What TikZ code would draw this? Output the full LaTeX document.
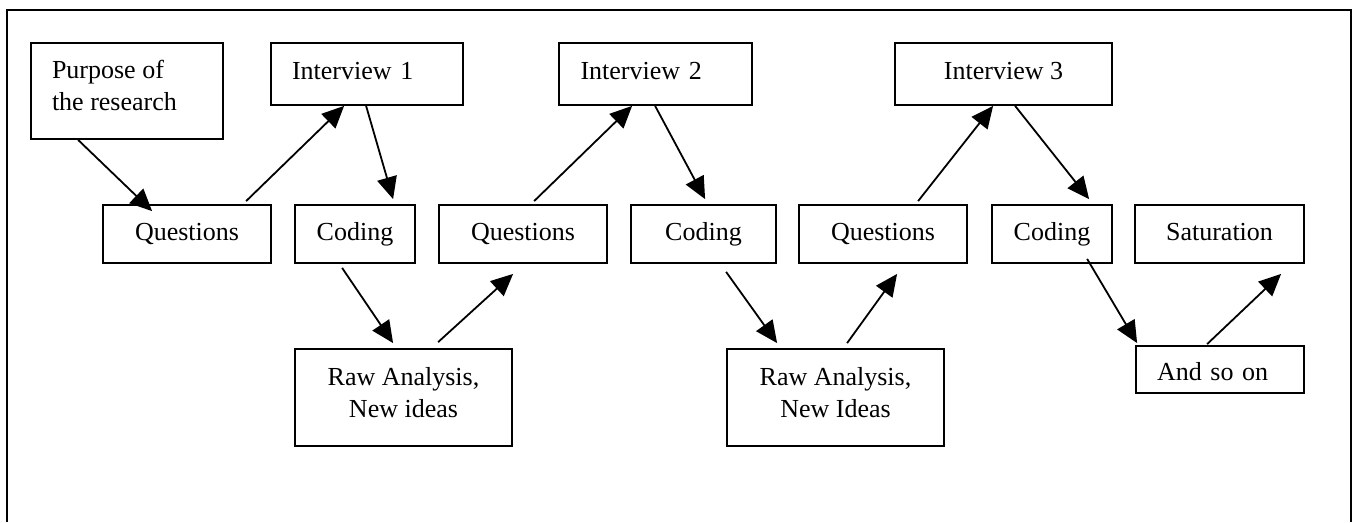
\documentclass[tikz,border=0pt]{standalone}
\usepackage{fontspec}
\setmainfont{Liberation Serif}
\usetikzlibrary{arrows.meta,calc}
\begin{document}
\begin{tikzpicture}[x=1pt,y=-1pt,
  box/.style={draw=black, line width=1.8pt, inner sep=0pt, fill=white,
    font=\fontsize{26}{32}\selectfont},
  onerow/.style={box, minimum height=58pt, text height=18pt, text depth=6pt},
  toprow/.style={box, minimum height=62pt, text height=18pt, text depth=8pt},
  arr/.style={line width=1.8pt, -{Triangle[length=22pt,width=20pt]}}]
\useasboundingbox (0,0) rectangle (1354,522);
\fill[white] (0,0) rectangle (1354,522);
% outer frame
\draw[line width=2pt] (7,522) -- (7,10) -- (1351,10) -- (1351,522);
% nodes
\node[box, minimum width=192pt, minimum height=96pt]
  (purpose) at (127,91) {\raisebox{0pt}[40pt][2pt]{\parbox[b]{150pt}{\raggedright Purpose of\\the research}}};
\node[toprow, minimum width=192pt, text width=150pt, align=left] (i1) at (367,74) {Interview 1};
\node[toprow, minimum width=193pt, text width=150pt, align=left] (i2) at (655.5,74) {Interview 2};
\node[toprow, minimum width=217pt] (i3) at (1003.5,74) {Interview 3};
\node[onerow, minimum width=168pt] (q1) at (187,234) {Questions};
\node[onerow, minimum width=120pt] (c1) at (355,234) {Coding};
\node[onerow, minimum width=168pt] (q2) at (523,234) {Questions};
\node[onerow, minimum width=145pt] (c2) at (703.5,234) {Coding};
\node[onerow, minimum width=168pt] (q3) at (883,234) {Questions};
\node[onerow, minimum width=120pt] (c3) at (1052,234) {Coding};
\node[onerow, minimum width=169pt] (sat) at (1219.5,234) {Saturation};
\node[box, minimum width=217pt, minimum height=97pt] (raw1) at (403.5,397.5)
  {\raisebox{0pt}[40pt][1pt]{\parbox[b]{200pt}{\centering Raw Analysis,\\New ideas}}};
\node[box, minimum width=217pt, minimum height=97pt] (raw2) at (835.5,397.5)
  {\raisebox{0pt}[40pt][1pt]{\parbox[b]{200pt}{\centering Raw Analysis,\\New Ideas}}};
\node[box, minimum width=168pt, minimum height=47pt, text width=126pt, align=left, text height=21pt, text depth=0pt]
  (andso) at (1220,369.5) {And so on};
% connectors
\draw[arr] ($(purpose.south west)+(48,0)$) -- ($(q1.north west)+(50,7)$);
\draw[arr] ($(q1.north west)+(144,-3)$) -- ($(i1.south west)+(74,0)$);
\draw[arr] ($(i1.south west)+(96,0)$) -- ($(c1.north west)+(99,-5)$);
\draw[arr] ($(c1.south west)+(48,4)$) -- ($(raw1.north west)+(99,-5)$);
\draw[arr] ($(raw1.north west)+(144,-6)$) -- ($(q2.south west)+(75,10)$);
\draw[arr] ($(q2.north west)+(96,-3)$) -- ($(i2.south west)+(74,0)$);
\draw[arr] ($(i2.south west)+(97,0)$) -- ($(c2.north west)+(75,-5)$);
\draw[arr] ($(c2.south west)+(96,8)$) -- ($(raw2.north west)+(51,-5)$);
\draw[arr] ($(raw2.north west)+(121,-5)$) -- ($(q3.south west)+(99,10)$);
\draw[arr] ($(q3.north west)+(120,-3)$) -- ($(i3.south west)+(99,0)$);
\draw[arr] ($(i3.south west)+(121,0)$) -- ($(c3.north west)+(98,-5)$);
\draw[arr] ($(c3.south west)+(96,-5)$) -- ($(andso.north west)+(2,-2)$);
\draw[arr] ($(andso.north west)+(72,-1)$) -- ($(sat.south west)+(147,10)$);
\end{tikzpicture}
\end{document}
